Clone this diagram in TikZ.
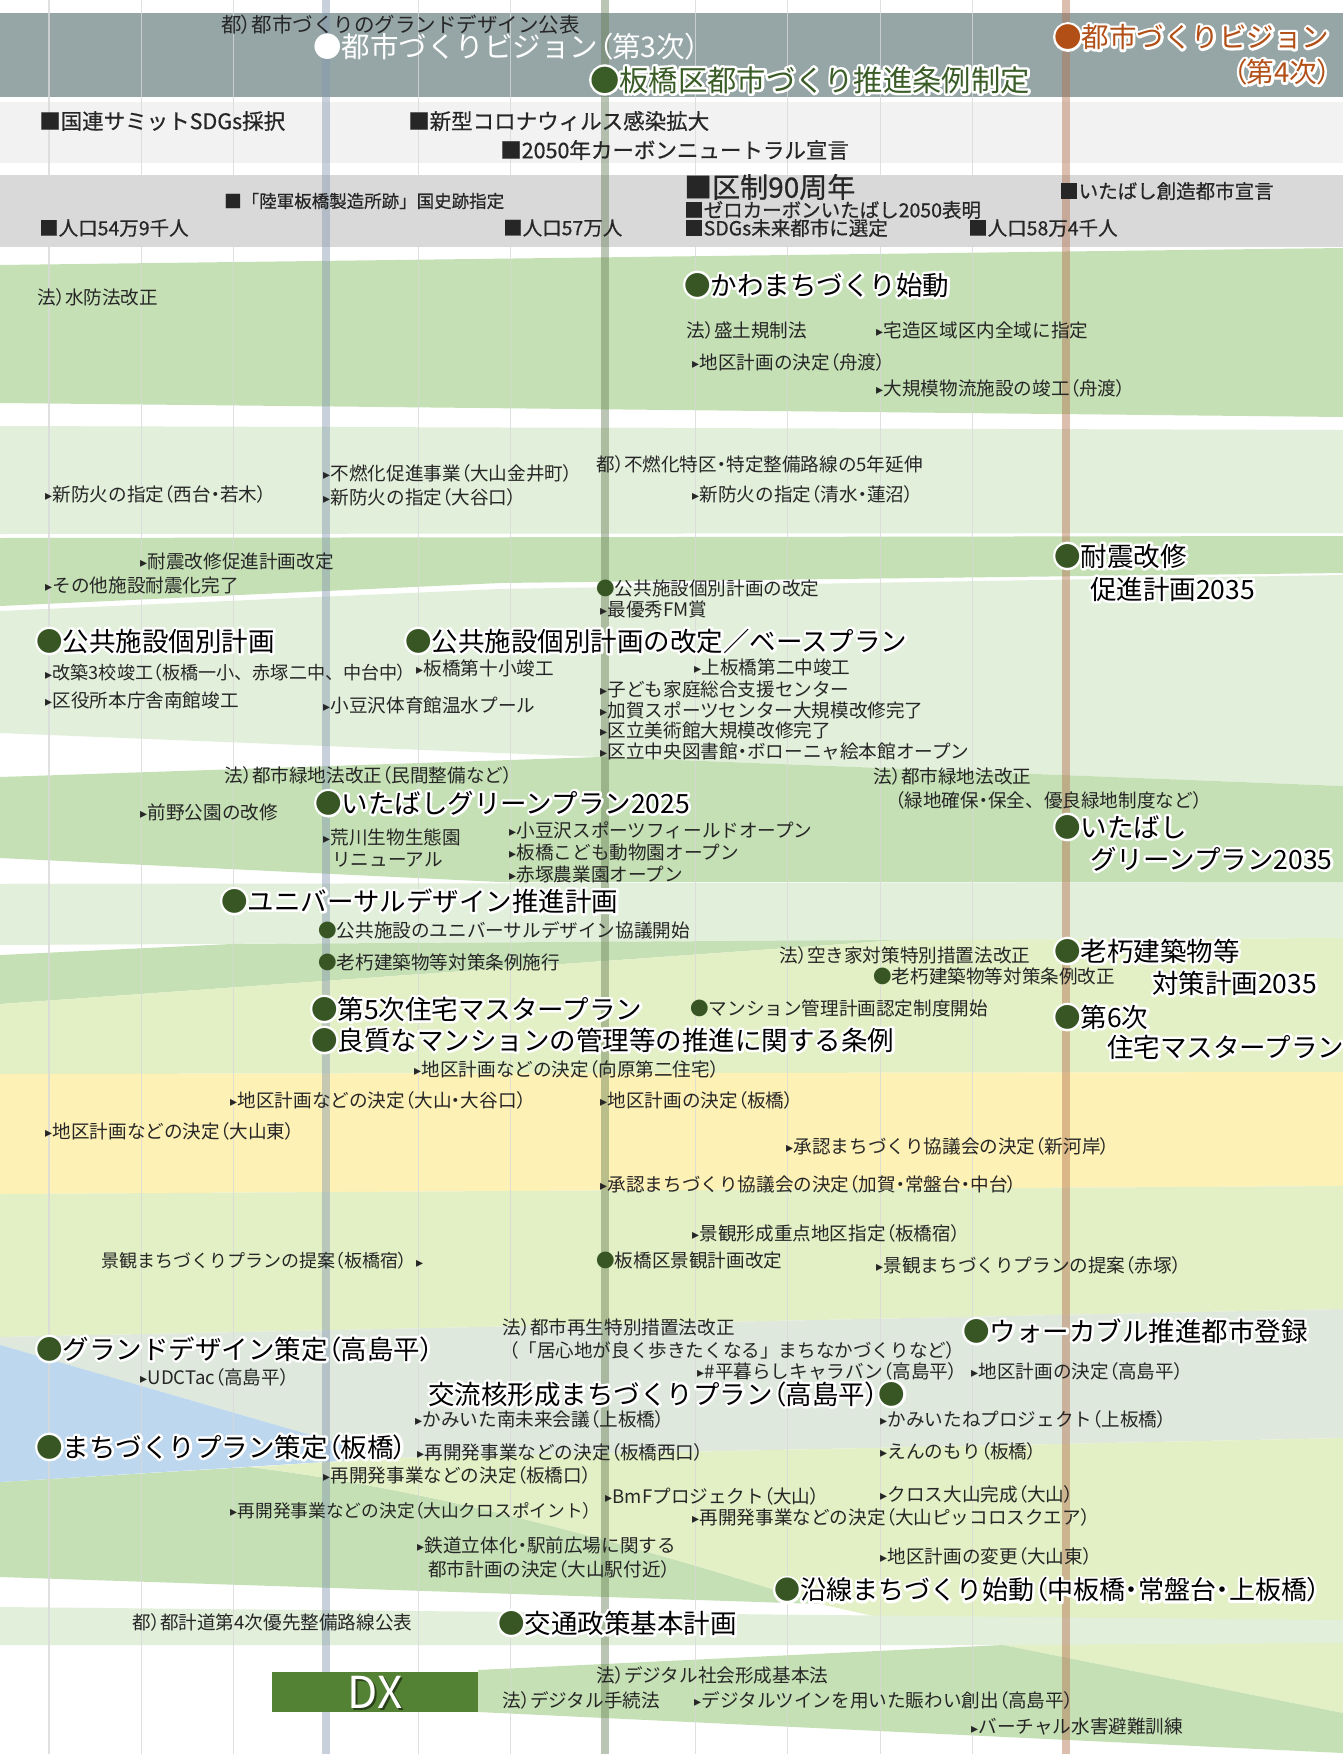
\documentclass[tikz,border=0pt]{standalone}
\usepackage{fontspec}
\setmainfont{Noto Sans CJK JP}
\newfontfamily\jpp{Noto Sans CJK JP}[RawFeature={+palt}]
\newfontfamily\semib{Noto Sans CJK JP}[FakeBold=0.6]
\newfontfamily\symf{DejaVu Sans}
\usepackage{xcolor}
\usepackage{tikz}

\definecolor{topgray}{RGB}{150,166,166}
\definecolor{lgray}{RGB}{242,242,242}
\definecolor{mgray}{RGB}{217,217,217}
\definecolor{verde}{RGB}{197,224,180}
\definecolor{verdeclaro}{RGB}{226,239,218}
\definecolor{lima}{RGB}{227,239,196}
\definecolor{amarillo}{RGB}{254,241,181}
\definecolor{grisverde}{RGB}{222,232,220}
\definecolor{azul}{RGB}{189,215,238}
\definecolor{dxverde}{RGB}{84,130,53}
\definecolor{marugreen}{RGB}{55,86,35}
\definecolor{jgreen}{RGB}{58,92,38}
\definecolor{naranja}{RGB}{177,79,23}
\definecolor{txt}{RGB}{38,38,38}
\definecolor{ejeazul}{RGB}{132,151,176}
\definecolor{ejeverde}{RGB}{105,128,88}
\definecolor{ejenaranja}{RGB}{178,112,78}

% marcas
\def\mcol{marugreen}
\newcommand{\maru}{\textcolor{\mcol}{●}}
\newcommand{\sank}{\raisebox{0.8pt}{\symf\fontsize{14}{14}\selectfont ▸}\kern0.5pt}
\newcommand{\kk}[1]{{\jpp （}#1{\jpp ）}}
\newcommand{\rp}{{\jpp ）}}
\newcommand{\ten}{{\jpp ・}}
% texto con halo blanco (trazo del contorno)
\newcommand{\glowtxt}[2][black]{%
  \makebox[0pt][l]{\def\mcol{white}\color{white}%
    \special{pdf:literal direct 2 Tr 5 w 1 j}#2\special{pdf:literal direct 0 Tr 0.4 w 0 j}}%
  \textcolor{#1}{#2}}

\begin{document}
\begin{tikzpicture}[x=1pt,y=-1pt,
    sml/.style={anchor=west,inner sep=0pt,text=txt,font=\fontsize{18.6}{21}\selectfont},
    big/.style={anchor=west,inner sep=0pt,text=black,font=\fontsize{26.5}{30}\selectfont},
    hito/.style={anchor=west,inner sep=0pt,text=txt,font=\semib\fontsize{21.5}{24}\selectfont},
    hito2/.style={anchor=west,inner sep=0pt,text=txt,font=\semib\fontsize{19.5}{22}\selectfont},
    anio/.style={line width=1.3pt,draw=mgray,opacity=0.8},
    eje/.style={line width=8pt,opacity=0.45}]
    % Parámetros
    \def\ancho{1343}
    \def\alto{1754}

    \useasboundingbox (0,0) rectangle (\ancho,\alto);
    \fill[white] (0,0) rectangle (\ancho,\alto);

    % Bandas superiores
    \fill[topgray] (0,12.7) rectangle (\ancho,96.7);
    \fill[lgray] (0,101.7) rectangle (\ancho,163.3);
    \fill[mgray] (0,175) rectangle (\ancho,246.7);

    % Bandas de temas
    \fill[verde] (0,265) -- (\ancho,248) -- (\ancho,417) -- (0,403) -- cycle;
    \fill[verdeclaro] (0,426) -- (\ancho,430) -- (\ancho,533) -- (0,534) -- cycle;
    \fill[verde] (0,538) -- (\ancho,536) -- (\ancho,573) -- (500,583) -- (0,606) -- cycle;
    \fill[verdeclaro] (0,611) -- (500,589) -- (\ancho,575) -- (\ancho,786) -- (600,757) -- (0,733) -- cycle;
    \fill[verde] (0,777) -- (600,757) -- (\ancho,786) -- (\ancho,882) -- (500,882) -- (0,858) -- cycle;
    \fill[verdeclaro] (0,884) -- (\ancho,882) -- (\ancho,938) -- (0,945) -- cycle;
    \fill[verde] (0,955) -- (231,944) -- (900,940) -- (0,1004) -- cycle;
    \fill[lima] (0,1004) -- (900,940) -- (\ancho,938) -- (\ancho,1072) -- (0,1074) -- cycle;
    \fill[amarillo] (0,1074) -- (\ancho,1072) -- (\ancho,1186) -- (0,1194) -- cycle;
    \fill[lima] (0,1194) -- (\ancho,1186) -- (\ancho,1309) -- (0,1337) -- cycle;
    \fill[grisverde] (0,1337) -- (\ancho,1309) -- (\ancho,1438) -- (390,1458) -- (0,1345) -- cycle;
    \fill[verde] (0,1482) -- (250,1467) .. controls (450,1492) and (650,1550) .. (820,1604) -- (0,1577) -- cycle;
    \fill[azul] (0,1345) -- (390,1458) -- (0,1482) -- cycle;
    \fill[lima] (390,1458) -- (\ancho,1438) -- (\ancho,1713) -- (1003,1645) -- (820,1604)
        .. controls (650,1550) and (450,1492) .. (250,1467) -- cycle;
    \fill[verdeclaro] (0,1607) -- (\ancho,1620) -- (\ancho,1643) -- (1003,1645) -- (0,1645) -- cycle;
    \fill[verde] (478,1670) -- (1003,1645) -- (\ancho,1713) -- (\ancho,1753) -- (478,1712) -- cycle;

    % Líneas de años
    \foreach \k in {0,1,2,4,5,7,8,9,10}
      \draw[anio] ({49+92.35*\k},0) -- ({49+92.35*\k},\alto);
    \draw[eje,ejeazul] (326,0) -- (326,\alto);
    \draw[eje,ejeverde] (605,0) -- (605,\alto);
    \draw[eje,ejenaranja] (1066,0) -- (1066,\alto);

    % Hitos
    \node[sml,text=black!85,font=\fontsize{20.5}{23}\selectfont] (gd) at (221,25) {都\rp 都市づくりのグランドデザイン公表};
    \node[big,text=white,font=\fontsize{28.5}{31}\selectfont] (vision3) at (313,47) {●都市づくりビジョン\kk{第3次}};
    \node[big,font=\fontsize{29.3}{32}\selectfont] (jourei) at (590,80) {\glowtxt[jgreen]{●板橋区都市づくり推進条例制定}};
    \node[big,font=\fontsize{27.5}{30}\selectfont] (vision4) at (1054,37) {\glowtxt[naranja]{●都市づくりビジョン}};
    \node[big,anchor=east,font=\fontsize{27.5}{30}\selectfont] (vision4b) at (1331,72) {\glowtxt[naranja]{\kk{第4次}}};

    \node[hito] (sdgs) at (39,121) {■国連サミットSDGs採択};
    \node[hito] (corona) at (408,121) {■新型コロナウィルス感染拡大};
    \node[hito] (carbon) at (500,150) {■2050年カーボンニュートラル宣言};

    \node[hito2,font=\semib\fontsize{17.5}{20}\selectfont] (shiseki) at (224,201) {■「陸軍板橋製造所跡」国史跡指定};
    \node[hito2] (jinko1) at (39,228) {■人口54万9千人};
    \node[hito2] (jinko2) at (503,228) {■人口57万人};
    \node[hito2,font=\semib\fontsize{28}{30}\selectfont] (kusei) at (684,187) {■区制90周年};
    \node[hito2] (zero) at (684,210) {■ゼロカーボンいたばし2050表明};
    \node[hito2] (mirai) at (684,228) {■SDGs未来都市に選定};
    \node[hito2] (jinko3) at (968,228) {■人口58万4千人};
    \node[hito2] (souzou) at (1059,191) {■いたばし創造都市宣言};

    % Agua y fuego
    \node[sml] (suibo) at (37,297) {法\rp 水防法改正};
    \node[big] (kawamachi) at (684,285) {\glowtxt{\maru かわまちづくり始動}};
    \node[sml] (morido) at (686,330) {法\rp 盛土規制法};
    \node[sml] (takuzo) at (876,330) {\sank 宅造区域区内全域に指定};
    \node[sml] (funado1) at (692,362) {\sank 地区計画の決定\kk{舟渡}};
    \node[sml] (funado2) at (876,388) {\sank 大規模物流施設の竣工\kk{舟渡}};
    \node[sml] (funen) at (323,473) {\sank 不燃化促進事業\kk{大山金井町}};
    \node[sml] (boka2) at (323,497) {\sank 新防火の指定\kk{大谷口}};
    \node[sml] (tokku) at (596,464) {都\rp 不燃化特区\ten 特定整備路線の5年延伸};
    \node[sml] (boka1) at (45,494) {\sank 新防火の指定\kk{西台\ten 若木}};
    \node[sml] (boka3) at (692,494) {\sank 新防火の指定\kk{清水\ten 蓮沼}};

    % Edificios
    \node[sml] (taishin1) at (140,561) {\sank 耐震改修促進計画改定};
    \node[sml] (taishin2) at (45,585) {\sank その他施設耐震化完了};
    \node[sml] (kaitei) at (596,588) {\maru 公共施設個別計画の改定};
    \node[sml] (fm) at (600,609) {\sank 最優秀FM賞};
    \node[big] (taishin35) at (1054,556) {\glowtxt{\maru 耐震改修}};
    \node[big] (taishin35b) at (1090,589) {\glowtxt{促進計画2035}};
    \node[big] (kobetsu) at (36,641) {\glowtxt{\maru 公共施設個別計画}};
    \node[sml,font=\fontsize{18.1}{21}\selectfont] (kaichiku) at (45,673) {\sank 改築3校竣工\kk{板橋一小、赤塚二中、中台中}};
    \node[sml] (nankan) at (45,700) {\sank 区役所本庁舎南館竣工};
    \node[big] (baseplan) at (405,641) {\glowtxt{\maru 公共施設個別計画の改定／ベースプラン}};
    \node[sml] (daijussho) at (416,668) {\sank 板橋第十小竣工};
    \node[sml] (azusawa1) at (323,705) {\sank 小豆沢体育館温水プール};
    \node[sml] (kamiita2) at (694,667) {\sank 上板橋第二中竣工};
    \node[sml] (kodomo) at (600,689) {\sank 子ども家庭総合支援センター};
    \node[sml] (kaga) at (600,710) {\sank 加賀スポーツセンター大規模改修完了};
    \node[sml] (bijutsu) at (600,730) {\sank 区立美術館大規模改修完了};
    \node[sml] (toshokan) at (600,751) {\sank 区立中央図書館\ten ボローニャ絵本館オープン};

    % Verde
    \node[sml] (ryokuchi1) at (224,775) {法\rp 都市緑地法改正\kk{民間整備など}};
    \node[sml] (maeno) at (140,812) {\sank 前野公園の改修};
    \node[big] (green25) at (315,803) {\glowtxt{\maru いたばしグリーンプラン2025}};
    \node[sml] (arakawa) at (323,837) {\sank 荒川生物生態園};
    \node[sml] (arakawab) at (332,860) {リニューアル};
    \node[sml] (azusawa2) at (509,830) {\sank 小豆沢スポーツフィールドオープン};
    \node[sml] (zoo) at (509,852) {\sank 板橋こども動物園オープン};
    \node[sml] (nogyo) at (509,874) {\sank 赤塚農業園オープン};
    \node[sml] (ryokuchi2) at (873,776) {法\rp 都市緑地法改正};
    \node[sml] (ryokuchi3) at (895,800) {\kk{緑地確保\ten 保全、優良緑地制度など}};
    \node[big] (green35) at (1054,827) {\glowtxt{\maru いたばし}};
    \node[big] (green35b) at (1090,859) {\glowtxt{グリーンプラン2035}};

    % Vivienda
    \node[big] (ud) at (221,901) {\glowtxt{\maru ユニバーサルデザイン推進計画}};
    \node[sml] (ud2) at (318,930) {\maru 公共施設のユニバーサルデザイン協議開始};
    \node[sml] (rokyu1) at (318,962) {\maru 老朽建築物等対策条例施行};
    \node[sml] (akiya) at (779,955) {法\rp 空き家対策特別措置法改正};
    \node[sml] (rokyu2) at (873,976) {\maru 老朽建築物等対策条例改正};
    \node[big] (rokyu35) at (1054,951) {\glowtxt{\maru 老朽建築物等}};
    \node[big] (rokyu35b) at (1152,983) {\glowtxt{対策計画2035}};
    \node[big] (jutaku5) at (311,1009) {\glowtxt{\maru 第5次住宅マスタープラン}};
    \node[big] (mansion) at (311,1040) {\glowtxt{\maru 良質なマンションの管理等の推進に関する条例}};
    \node[sml] (mansion2) at (690,1008) {\maru マンション管理計画認定制度開始};
    \node[big] (jutaku6) at (1054,1017) {\glowtxt{\maru 第6次}};
    \node[big] (jutaku6b) at (1107,1047) {\glowtxt{住宅マスタープラン}};
    \node[sml] (mukaihara) at (414,1069) {\sank 地区計画などの決定\kk{向原第二住宅}};

    % Barrios
    \node[sml] (oyama1) at (230,1100) {\sank 地区計画などの決定\kk{大山\ten 大谷口}};
    \node[sml] (itabashi1) at (600,1100) {\sank 地区計画の決定\kk{板橋}};
    \node[sml] (oyama2) at (45,1131) {\sank 地区計画などの決定\kk{大山東}};
    \node[sml] (shingashi) at (786,1146) {\sank 承認まちづくり協議会の決定\kk{新河岸}};
    \node[sml] (kaga2) at (600,1184) {\sank 承認まちづくり協議会の決定\kk{加賀\ten 常盤台\ten 中台}};
    \node[sml] (keikan1) at (692,1233) {\sank 景観形成重点地区指定\kk{板橋宿}};
    \node[sml,font=\fontsize{18}{21}\selectfont] (keikan2) at (101,1261) {景観まちづくりプランの提案\kk{板橋宿}\kern9pt\sank};
    \node[sml] (keikan3) at (596,1260) {\maru 板橋区景観計画改定};
    \node[sml] (keikan4) at (876,1265) {\sank 景観まちづくりプランの提案\kk{赤塚}};

    % Centros
    \node[sml] (saisei1) at (502,1327) {法\rp 都市再生特別措置法改正};
    \node[sml] (saisei2) at (509,1350) {\kk{「居心地が良く歩きたくなる」まちなかづくりなど}};
    \node[big] (walkable) at (963,1331) {\glowtxt{\maru ウォーカブル推進都市登録}};
    \node[big] (gd2) at (36,1349) {\glowtxt{\maru グランドデザイン策定\kk{高島平}}};
    \node[sml] (udctac) at (140,1377) {\sank UDCTac\kk{高島平}};
    \node[sml] (caravan) at (697,1371) {\sank \#平暮らしキャラバン\kk{高島平}};
    \node[sml] (takashima) at (971,1371) {\sank 地区計画の決定\kk{高島平}};
    \node[big] (koryu) at (428,1394) {\glowtxt{交流核形成まちづくりプラン\kk{高島平}\maru}};
    \node[sml] (kamiita3) at (415,1419) {\sank かみいた南未来会議\kk{上板橋}};
    \node[sml] (kamiitane) at (880,1419) {\sank かみいたねプロジェクト\kk{上板橋}};
    \node[big] (plan) at (36,1447) {\glowtxt{\maru まちづくりプラン策定\kk{板橋}}};
    \node[sml] (nishiguchi) at (417,1452) {\sank 再開発事業などの決定\kk{板橋西口}};
    \node[sml] (ennomori) at (880,1451) {\sank えんのもり\kk{板橋}};
    \node[sml] (itaguchi) at (323,1475) {\sank 再開発事業などの決定\kk{板橋口}};
    \node[sml] (bmf) at (605,1496) {\sank BmFプロジェクト\kk{大山}};
    \node[sml] (cross) at (880,1494) {\sank クロス大山完成\kk{大山}};
    \node[sml,font=\fontsize{17.7}{21}\selectfont] (crosspoint) at (230,1511) {\sank 再開発事業などの決定\kk{大山クロスポイント}};
    \node[sml] (piccolo) at (692,1517) {\sank 再開発事業などの決定\kk{大山ピッコロスクエア}};
    \node[sml] (tetsudo) at (417,1545) {\sank 鉄道立体化\ten 駅前広場に関する};
    \node[sml] (tetsudob) at (428,1569) {都市計画の決定\kk{大山駅付近}};
    \node[sml] (oyama3) at (880,1556) {\sank 地区計画の変更\kk{大山東}};
    \node[big,font=\fontsize{26}{30}\selectfont] (ensen) at (774,1590) {\glowtxt{\maru 沿線まちづくり始動\kk{中板橋\ten 常盤台\ten 上板橋}}};

    % Transporte
    \node[sml] (tokeido) at (132,1622) {都\rp 都計道第4次優先整備路線公表};
    \node[big] (kotsu) at (498,1623) {\glowtxt{\maru 交通政策基本計画}};

    % DX
    \fill[dxverde] (272,1672) rectangle (478,1712);
    \node[inner sep=0pt,text=black,opacity=0.5,font=\fontsize{44}{44}\selectfont] (dxsombra) at (377,1694) {DX};
    \node[inner sep=0pt,text=white,font=\fontsize{44}{44}\selectfont] (dx) at (375,1692) {DX};
    \node[sml] (dejitaru1) at (596,1675) {法\rp デジタル社会形成基本法};
    \node[sml] (dejitaru2) at (502,1700) {法\rp デジタル手続法};
    \node[sml] (twin) at (694,1700) {\sank デジタルツインを用いた賑わい創出\kk{高島平}};
    \node[sml] (virtual) at (971,1727) {\sank バーチャル水害避難訓練};
  \end{tikzpicture}
\end{document}
